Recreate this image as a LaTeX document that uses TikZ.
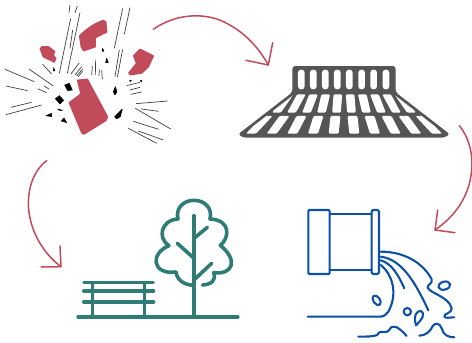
\documentclass[tikz,border=0pt]{standalone}
\definecolor{crimson}{HTML}{C14B5B}
\definecolor{teal2}{HTML}{2F7B76}
\definecolor{pipeblue}{HTML}{0D50A8}
\definecolor{grate}{HTML}{555555}
\tikzset{
  flow/.style={draw=crimson,line width=1.5pt,line cap=round,line join=round},
  shard/.style={fill=crimson,draw=crimson,line width=1.5pt,line join=round},
  chip/.style={fill=black,draw=black,line width=.5pt,line join=round},
  ray/.style={draw=black!75,line width=.7pt},
  parkline/.style={draw=teal2,line width=3.6pt,line cap=round,line join=round},
  pipeline/.style={draw=pipeblue,line width=2.1pt,line cap=round,line join=round},
  slot/.style={fill=white,rounded corners=1.2pt},
}
\begin{document}
\begin{tikzpicture}[x=1pt,y=-1pt]
\useasboundingbox (0,0) rectangle (472,343);
\clip (0,0) rectangle (472,343);

% arrows
\draw[flow] (153.3,29.3) .. controls (175,14) and (205,11) .. (228,24) .. controls (245,33) and (259,48) .. (268.3,65);
\draw[flow] (246,60.3) -- (268.3,65) -- (272.7,42.7);
\draw[flow] (459.3,125.7) .. controls (468,136) and (472,150) .. (472,165) .. controls (471,193) and (458,214) .. (435,230);
\draw[flow] (437.7,210) -- (435,230) -- (455,232.7);
\draw[flow] (46.7,160.7) .. controls (34,170) and (27.5,188) .. (28.5,207) .. controls (30,232) and (44,254) .. (61,266.7);
\draw[flow] (60,246) -- (61,266.7) -- (41,267);

% explosion
\begin{scope}[x=.3333pt,y=-.3333pt]
\path[shard] (233,241) -- (262,238) -- (322,350) -- (318,361) -- (252,402) -- (246,399) -- (208,308) -- (233,290) -- (243,281) -- cycle;
\path[shard] (239,108) .. controls (262,85) and (285,70) .. (309,62) -- (317,65) -- (320,96) -- (285,113) -- (286,140) -- (251,152) -- (244,140) -- cycle;
\path[shard] (121,146) -- (126,141) -- (146,141) -- (164,155) -- (159,165) -- (167,175) -- (163,186) -- (130,170) -- cycle;
\path[shard] (420,148) -- (460,168) -- (445,200) -- (425,219) -- (391,224) -- (387,219) -- (410,190) -- (401,167) -- cycle;
\foreach \p in {
 {(194,255) -- (208,250) -- (217,270) -- (203,272)},
 {(166,296) -- (178,287) -- (191,301) -- (180,312)},
 {(138,347) -- (155,340) -- (155,350)},
 {(184,363) -- (192,354) -- (200,368)},
 {(173,327) -- (188,331) -- (178,331)},
 {(346,260) -- (351,275) -- (345,285) -- (340,275)},
 {(344,350) -- (367,327) -- (361,350) -- (350,357)},
 {(320,175) -- (325,188) -- (317,188)},
 {(308,145) -- (312,154) -- (306,153)},
 {(161,203) -- (165,213) -- (160,213)},
 {(389,241) -- (394,241) -- (391,245)},
 {(421,241) -- (426,242) -- (424,246)}}
 {\path[chip] \p -- cycle;}
\foreach \a/\b in {
 {(207,38)}/{(210,15)},{(225,38)}/{(232,18)},{(178,220)}/{(212,55)},{(202,220)}/{(240,38)},{(210,145)}/{(218,90)},
 {(343,145)}/{(368,25)},{(373,103)}/{(390,23)},{(345,230)}/{(358,150)},{(352,232)}/{(368,148)},
 {(128,193)}/{(155,222)},{(15,208)}/{(103,245)},{(88,208)}/{(160,258)},{(18,258)}/{(83,272)},{(113,266)}/{(140,278)},{(132,258)}/{(147,267)},
 {(33,322)}/{(95,307)},{(18,344)}/{(125,315)},
 {(213,222)}/{(238,188)},{(225,225)}/{(245,200)},{(230,228)}/{(248,207)},{(235,230)}/{(248,213)},
 {(275,225)}/{(277,198)},{(286,225)}/{(287,180)},{(297,228)}/{(298,208)},{(307,238)}/{(305,210)},
 {(380,257)}/{(420,247)},{(390,270)}/{(420,262)},{(392,283)}/{(425,276)},
 {(408,311)}/{(503,303)},{(423,327)}/{(476,334)},{(406,325)}/{(512,387)},{(400,364)}/{(476,388)},{(385,385)}/{(470,430)},{(415,393)}/{(490,420)}}
 {\draw[ray] \a -- \b;}
\end{scope}

% grate
\begin{scope}[shift={(230,55)},x=.3333pt,y=-.3333pt]
\fill[grate,rounded corners=3pt] (187,112) -- (187,33) -- (497,33) -- (497,112) -- (660,238) -- (642,248) -- (40,248) -- (24,238) -- cycle;
\foreach \cx in {214,250,286,322,358,395,431,468}
  \fill[white,rounded corners=3pt] (\cx-10,44) rectangle (\cx+10,103);
\begin{scope}
\clip (201,112) -- (483,112) -- (646,238) -- (38,238) -- cycle;
\foreach \u in {-4.5,-3.5,...,4.5}
  \path[slot] ({342+\u*36.5-13},118) -- ({342+\u*36.5+13},118) -- ({342+\u*45+13},173) -- ({342+\u*45-13},173) -- cycle;
\foreach \u in {-4.5,-3.5,...,4.5}
  \path[slot] ({342+\u*51-15},183) -- ({342+\u*51+15},183) -- ({342+\u*62+15},236) -- ({342+\u*62-15},236) -- cycle;
\end{scope}
\end{scope}

% park
\begin{scope}[shift={(70,195)},x=.3333pt,y=-.3333pt]
\draw[parkline,line width=4pt] (25,366) -- (503,366);
\draw[parkline,line width=3.4pt] (42,263) -- (250,263);
\draw[parkline,line width=4.1pt] (42,288) -- (250,288);
\draw[parkline,line width=4.1pt] (42,321) -- (250,321);
\draw[parkline,line cap=butt] (67,263) -- (67,366);
\draw[parkline,line cap=butt] (224,263) -- (224,366);
\draw[parkline] (372,62) -- (372,366);
\draw[parkline] (372,130) -- (412,97);
\draw[parkline] (372,190) -- (322,145);
\draw[parkline] (372,255) -- (425,205);
\draw[parkline] (398,270) .. controls (422,268) and (440,258) .. (431,233)
  .. controls (490,240) and (505,195) .. (451,151)
  .. controls (478,130) and (485,75) .. (420,72)
  .. controls (428,40) and (405,16) .. (372,16)
  .. controls (340,16) and (316,40) .. (324,72)
  .. controls (272,75) and (262,130) .. (297,152)
  .. controls (240,175) and (245,240) .. (318,231)
  .. controls (322,258) and (345,270) .. (372,271);
\end{scope}

% pipe
\begin{scope}[shift={(295,200)},x=.3333pt,y=-.3333pt]
\draw[pipeline,rounded corners=1pt] (40,30) rectangle (104,222);
\draw[pipeline] (104,42) -- (230,42) (104,210) -- (230,210);
\draw[pipeline,rounded corners=2pt] (230,30) rectangle (252,222);
\draw[pipeline] (257,155) .. controls (330,155) and (385,190) .. (410,238)
  .. controls (415,250) and (395,255) .. (398,263)
  .. controls (405,280) and (462,290) .. (470,325)
  .. controls (472,340) and (445,340) .. (448,350) .. controls (452,356) and (465,352) .. (478,352);
\draw[pipeline] (257,170) .. controls (320,178) and (360,245) .. (400,331);
\draw[pipeline] (257,181) .. controls (290,190) and (310,225) .. (328,265);
\draw[pipeline] (257,195) .. controls (295,225) and (305,280) .. (285,325) .. controls (277,345) and (265,350) .. (255,350) -- (38,350);
\draw[pipeline,rotate around={-55:(245,301)}] (245,301) ellipse [x radius=16,y radius=10];
\draw[pipeline,rotate around={15:(448,257)}] (448,257) ellipse [x radius=18,y radius=12];
\draw[pipeline] (337,335) circle [radius=11];
\draw[pipeline] (363,376) .. controls (355,345) and (365,332) .. (378,333) .. controls (392,340) and (382,358) .. (363,376) -- cycle;
\draw[pipeline] (190,410) .. controls (215,410) and (235,410) .. (247,405) .. controls (255,385) and (275,405) .. (283,390) .. controls (292,370) and (310,380) .. (335,408);
\draw[pipeline] (373,407) .. controls (395,405) and (405,395) .. (412,380) .. controls (420,365) and (435,370) .. (440,385) .. controls (445,405) and (460,412) .. (478,412);
\end{scope}
\end{tikzpicture}
\end{document}
